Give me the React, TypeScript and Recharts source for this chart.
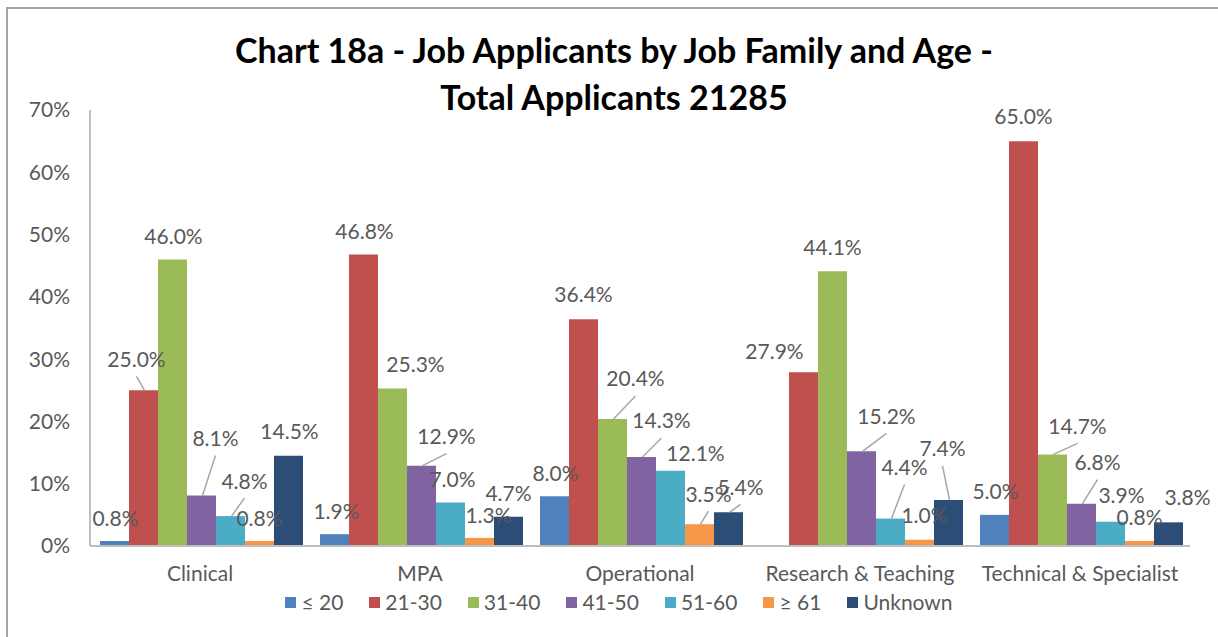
import { Bar, BarChart, LabelList, Legend, XAxis, YAxis } from "recharts";

// Job applicants by job family and age: clustered columns, Excel-style labels
// with leader lines on the ones that got nudged.

const categories = [
  "Clinical",
  "MPA",
  "Operational",
  "Research & Teaching",
  "Technical & Specialist",
];

const seriesNames = ["≤ 20", "21-30", "31-40", "41-50", "51-60", "≥ 61", "Unknown"];

const le20 = [0.8, 1.9, 8.0, 0.0, 5.0];
const age21to30 = [25.0, 46.8, 36.4, 27.9, 65.0];
const age31to40 = [46.0, 25.3, 20.4, 44.1, 14.7];
const age41to50 = [8.1, 12.9, 14.3, 15.2, 6.8];
const age51to60 = [4.8, 7.0, 12.1, 4.4, 3.9];
const ge61 = [0.8, 1.3, 3.5, 1.0, 0.8];
const unknown = [14.5, 4.7, 5.4, 7.4, 3.8];

const yTicks = [0, 10, 20, 30, 40, 50, 60, 70];

const seriesValues = [le20, age21to30, age31to40, age41to50, age51to60, ge61, unknown];
const seriesColors = ["#4f81bd", "#c0504d", "#9bbb59", "#8064a2", "#4bacc6", "#f79646", "#2c4d75"];

// label nudges from bar top centre: [dx, dy, leader line?]
const labelNudge: [number, number, number][][] = [
  [[1, -24, 0], [2, -24, 0], [1, -24, 0], [1, -24, 0], [-13, -29, 1]],
  [[-7, -32, 1], [1, -24, 0], [0, -26, 0], [-29, -22, 0], [0, -26, 0]],
  [[1, -24, 0], [23, -25, 0], [23, -41, 1], [0, -25, 0], [25, -29, 1]],
  [[14, -58, 1], [25, -30, 1], [20, -37, 1], [25, -36, 1], [16, -42, 1]],
  [[14, -36, 1], [2, -24, 0], [25, -18, 0], [14, -52, 1], [11, -27, 0]],
  [[0, -24, 0], [9, -23, 0], [9, -31, 1], [5, -25, 0], [0, -25, 0]],
  [[1, -25, 0], [0, -24, 0], [12, -26, 1], [-6, -52, 1], [19, -26, 0]],
];

const FONT = "Lato, 'Open Sans', sans-serif";
const TEXT = "#595959";
const AXIS = "#bfbfbf";

const data = categories.map((name, i) => {
  const row: Record<string, string | number> = { name };
  seriesValues.forEach((vals, s) => {
    row[`s${s}`] = vals[i];
  });
  return row;
});

function makeLabel(s: number) {
  return (props: any) => {
    const { x, y, width, value, index } = props;
    const [dx, dy, leader] = labelNudge[s][index];
    const bx = Number(x) + Number(width) / 2;
    const by = Number(y);
    const cx = bx + dx;
    const cy = by + dy;
    return (
      <g>
        {leader ? (
          <line x1={cx} y1={cy + 18} x2={bx + 1} y2={by} stroke="#a6a6a6" strokeWidth={1.5} />
        ) : null}
        <text
          x={cx}
          y={cy}
          textAnchor="middle"
          dominantBaseline="central"
          fill={TEXT}
          fontSize={21}
          fontFamily={FONT}
        >
          {Number(value).toFixed(1)}%
        </text>
      </g>
    );
  };
}

function LegendRow() {
  return (
    <div
      style={{
        display: "flex",
        justifyContent: "center",
        gap: 26,
        paddingLeft: 48,
        fontFamily: FONT,
        fontSize: 21,
        color: TEXT,
        lineHeight: "26px",
      }}
    >
      {seriesNames.map((n, s) => (
        <div key={n} style={{ display: "flex", alignItems: "center", gap: 5 }}>
          <span style={{ width: 11, height: 11, background: seriesColors[s], display: "inline-block" }} />
          <span>{n}</span>
        </div>
      ))}
    </div>
  );
}

export default function App() {
  return (
    <div
      style={{
        position: "fixed",
        left: 0,
        top: 0,
        width: 1218,
        height: 637,
        overflow: "hidden",
        background: "#fff",
      }}
    >
      <div
        style={{
          position: "absolute",
          left: 6,
          top: 7,
          width: 1260,
          height: 700,
          border: "2px solid #a6a6a6",
        }}
      />
      <div
        style={{
          position: "absolute",
          left: 0,
          top: 26,
          width: 1228,
          textAlign: "center",
          fontFamily: FONT,
          fontWeight: 700,
          fontSize: 34,
          lineHeight: "47px",
          color: "#000",
        }}
      >
        Chart 18a - Job Applicants by Job Family and Age -
        <br />
        Total Applicants 21285
      </div>
      <div style={{ position: "absolute", left: 0, top: 0 }}>
        <BarChart
          width={1218}
          height={637}
          data={data}
          margin={{ top: 110, right: 28, left: 0, bottom: 22 }}
          barCategoryGap={10}
          barGap={0}
        >
          <XAxis
            dataKey="name"
            axisLine={{ stroke: AXIS, strokeWidth: 2 }}
            tickLine={false}
            tickMargin={14}
            height={43}
            interval={0}
            tick={{ fill: TEXT, fontSize: 21, fontFamily: FONT }}
          />
          <YAxis
            domain={[0, 70]}
            ticks={yTicks}
            width={90}
            axisLine={{ stroke: AXIS, strokeWidth: 2 }}
            tickLine={false}
            tickMargin={14}
            tickFormatter={(v) => `${v}%`}
            tick={{ fill: TEXT, fontSize: 21, fontFamily: FONT }}
          />
          <Legend verticalAlign="bottom" content={() => <LegendRow />} />
          {seriesNames.map((n, s) => (
            <Bar key={n} dataKey={`s${s}`} name={n} fill={seriesColors[s]} isAnimationActive={false}>
              <LabelList dataKey={`s${s}`} content={makeLabel(s)} />
            </Bar>
          ))}
        </BarChart>
      </div>
    </div>
  );
}
